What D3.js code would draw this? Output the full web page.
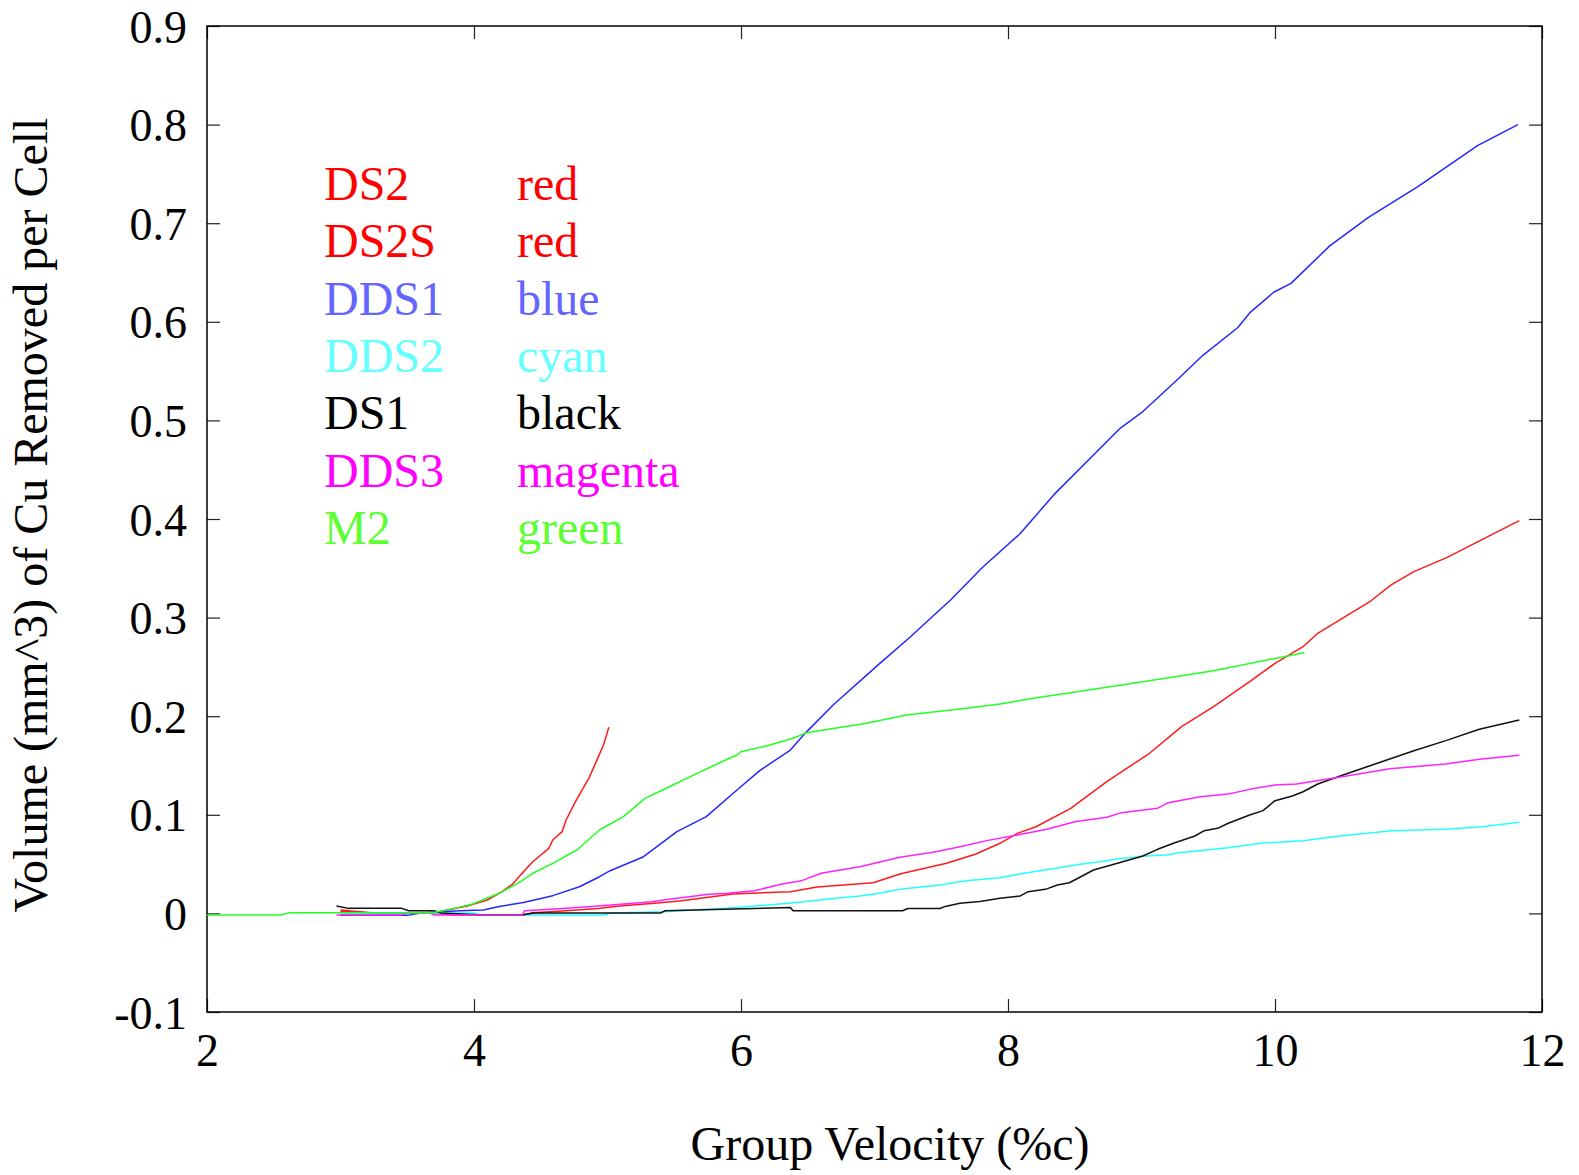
<!DOCTYPE html>
<html>
<head>
<meta charset="utf-8">
<script src="https://cdn.jsdelivr.net/npm/d3@7"></script>
<style>
  html, body { margin: 0; padding: 0; background: #fff; }
  svg { display: block; }
  text { font-family: "Liberation Serif", "Times New Roman", serif; }
</style>
</head>
<body>
<svg id="chart" width="1579" height="1175"></svg>
<script>
// ---------------- data ----------------
const xTicks = [2, 4, 6, 8, 10, 12];
const xTickLabels = ["2", "4", "6", "8", "10", "12"];
const yTicks = [-0.1, 0, 0.1, 0.2, 0.3, 0.4, 0.5, 0.6, 0.7, 0.8, 0.9];
const yTickLabels = ["-0.1", "0", "0.1", "0.2", "0.3", "0.4", "0.5", "0.6", "0.7", "0.8", "0.9"];

const xTitle = "Group Velocity (%c)";
const yTitle = "Volume (mm^3) of Cu Removed per Cell";

const seriesNames = ["DS2", "DS2S", "DDS1", "DDS2", "DS1", "DDS3", "M2"];
const colorWords = ["red", "red", "blue", "cyan", "black", "magenta", "green"];

const DS2 = [[3.0,0.0034],[3.2,0.001],[3.5,0.0005],[3.69,0.0005],[3.80,0.0034],[3.95,0.0075],[4.10,0.0136],[4.21,0.022],[4.29,0.0298],[4.36,0.0407],[4.44,0.0524],[4.56,0.066],[4.59,0.0744],[4.66,0.0829],[4.69,0.0947],[4.76,0.1133],[4.81,0.1252],[4.86,0.137],[4.91,0.1522],[4.97,0.1708],[5.01,0.1887]];

const DS2S = [[3.0,0.002],[3.3,0.0005],[3.67,0.0005],[3.86,-0.0016],[4.36,-0.0016],[4.44,0.0007],[4.69,0.0027],[4.93,0.005],[5.09,0.0075],[5.33,0.0100],[5.54,0.0126],[5.94,0.0197],[6.37,0.022],[6.57,0.0268],[6.99,0.0311],[7.19,0.040],[7.54,0.0508],[7.76,0.0602],[7.94,0.0711],[8.07,0.0812],[8.21,0.0879],[8.47,0.1066],[8.74,0.1336],[9.06,0.1624],[9.30,0.1894],[9.54,0.2096],[9.81,0.235],[10.0,0.2536],[10.21,0.2705],[10.32,0.2841],[10.71,0.3161],[10.87,0.3331],[11.04,0.3466],[11.29,0.3611],[11.55,0.379],[11.83,0.3983]];

const DDS1 = [[3.0,-0.002],[3.5,-0.002],[3.6,0.0005],[3.89,0.0027],[4.07,0.0035],[4.19,0.007],[4.37,0.011],[4.59,0.018],[4.79,0.027],[4.94,0.0372],[5.02,0.0433],[5.27,0.0575],[5.52,0.0829],[5.74,0.0981],[5.97,0.1252],[6.14,0.1448],[6.37,0.1657],[6.48,0.1826],[6.69,0.2114],[7.04,0.2536],[7.27,0.2806],[7.42,0.2993],[7.57,0.3178],[7.81,0.351],[8.09,0.385],[8.35,0.4255],[8.64,0.465],[8.84,0.492],[9.01,0.509],[9.25,0.539],[9.46,0.566],[9.72,0.594],[9.81,0.609],[9.99,0.630],[10.12,0.639],[10.41,0.677],[10.70,0.706],[11.07,0.737],[11.52,0.779],[11.82,0.800]];

const DDS2 = [[3.0,0.0005],[4.0,0.0005],[4.05,-0.0016],[4.97,-0.0016],[5.03,0.0005],[5.42,0.0017],[5.89,0.0052],[6.29,0.0095],[6.47,0.0119],[6.65,0.0146],[6.89,0.0176],[7.06,0.021],[7.19,0.0244],[7.49,0.0288],[7.69,0.0332],[7.94,0.0362],[8.12,0.0407],[8.36,0.0457],[8.54,0.0498],[8.69,0.0524],[8.82,0.0552],[9.03,0.0582],[9.19,0.0592],[9.28,0.0616],[9.65,0.0666],[9.89,0.0711],[10.21,0.0737],[10.48,0.0785],[10.88,0.0839],[11.28,0.0853],[11.55,0.0879],[11.83,0.0924]];

const DS1 = [[2.97,0.0076],[3.06,0.0051],[3.46,0.0051],[3.51,0.0027],[3.70,0.0027],[3.75,0.0005],[4.07,-0.0016],[4.36,-0.0016],[4.45,0.0005],[5.40,0.0005],[5.43,0.0027],[6.37,0.006],[6.39,0.0027],[7.21,0.0027],[7.25,0.005],[7.49,0.005],[7.53,0.0071],[7.64,0.0103],[7.79,0.012],[7.94,0.0153],[8.09,0.0176],[8.15,0.022],[8.28,0.0244],[8.37,0.0288],[8.46,0.0311],[8.64,0.044],[8.82,0.0508],[9.01,0.0582],[9.12,0.065],[9.25,0.0717],[9.40,0.0785],[9.47,0.0839],[9.57,0.0863],[9.65,0.0914],[9.81,0.0998],[9.91,0.1042],[10.0,0.1143],[10.13,0.1191],[10.21,0.1234],[10.32,0.1312],[10.51,0.1404],[10.75,0.1515],[11.04,0.165],[11.28,0.1752],[11.53,0.1867],[11.83,0.1961]];

const DDS3 = [[2.97,-0.0016],[3.46,-0.0016],[3.5,0.0005],[3.67,0.0005],[3.7,-0.0016],[4.36,-0.0016],[4.38,0.0028],[4.69,0.0052],[4.93,0.0075],[5.17,0.0100],[5.33,0.0119],[5.46,0.0143],[5.76,0.0194],[5.90,0.0204],[6.10,0.023],[6.30,0.0295],[6.45,0.033],[6.60,0.0407],[6.89,0.0474],[7.19,0.0569],[7.44,0.062],[7.64,0.0677],[7.84,0.0738],[8.07,0.0795],[8.29,0.0853],[8.50,0.093],[8.74,0.0975],[8.85,0.1022],[9.12,0.1066],[9.20,0.1123],[9.44,0.1184],[9.65,0.1211],[9.81,0.1258],[10.0,0.1302],[10.16,0.1312],[10.48,0.138],[10.86,0.1468],[11.28,0.1515],[11.53,0.1563],[11.83,0.1603]];

const M2 = [[2.0,-0.0016],[2.55,-0.0016],[2.62,0.0007],[3.69,0.0007],[3.82,0.0041],[3.99,0.0095],[4.19,0.0204],[4.34,0.0315],[4.44,0.0407],[4.59,0.0508],[4.77,0.0643],[4.94,0.0846],[5.12,0.0981],[5.28,0.1167],[5.44,0.1269],[5.62,0.1387],[5.82,0.1515],[5.97,0.1606],[6.0,0.164],[6.19,0.1698],[6.39,0.1776],[6.49,0.1833],[6.94,0.1928],[7.24,0.2012],[7.69,0.208],[7.94,0.2124],[8.19,0.2181],[8.69,0.2283],[9.01,0.235],[9.54,0.2462],[10.22,0.2644]];

const seriesData = [DS2, DS2S, DDS1, DDS2, DS1, DDS3, M2];

// ---------------- styles ----------------
const lineColors = ["#ff1a1a", "#ff1a1a", "#2626ff", "#22ffff", "#111111", "#ff22ff", "#22ff22"];
const textColors = ["#ff0000", "#ff0000", "#6464ff", "#66ffff", "#000000", "#ff00ff", "#5cff33"];

const svg = d3.select("#chart");
const W = 1579, H = 1175;
svg.append("rect").attr("width", W).attr("height", H).attr("fill", "#fff");

const pLeft = 207, pRight = 1542, pTop = 26, pBottom = 1012;
const x = d3.scaleLinear().domain([2, 12]).range([pLeft, pRight]);
const y = d3.scaleLinear().domain([-0.1, 0.9]).range([pBottom, pTop]);

const tickFont = 46;

// axes (inward ticks on all sides)
const axL = svg.append("g").attr("transform", `translate(${pLeft},0)`)
  .call(d3.axisLeft(y).tickValues(yTicks).tickSize(-13).tickPadding(20)
    .tickFormat((d, i) => yTickLabels[i]));
const axB = svg.append("g").attr("transform", `translate(0,${pBottom})`)
  .call(d3.axisBottom(x).tickValues(xTicks).tickSize(-13).tickPadding(21)
    .tickFormat((d, i) => xTickLabels[i]));
const axT = svg.append("g").attr("transform", `translate(0,${pTop})`)
  .call(d3.axisTop(x).tickValues(xTicks).tickSize(-13).tickFormat(""));
const axR = svg.append("g").attr("transform", `translate(${pRight},0)`)
  .call(d3.axisRight(y).tickValues(yTicks).tickSize(-13).tickFormat(""));

[axL, axB, axT, axR].forEach(a => {
  a.select(".domain").remove();
  a.selectAll(".tick line").attr("stroke", "#222").attr("stroke-width", 1.2);
  a.selectAll(".tick text")
    .attr("font-family", '"Liberation Serif", "Times New Roman", serif')
    .attr("font-size", tickFont)
    .attr("fill", "#000");
});
axL.selectAll(".tick text").attr("dy", "0.35em");
axB.selectAll(".tick text").attr("dy", "0.71em");

// frame
svg.append("rect")
  .attr("x", pLeft).attr("y", pTop)
  .attr("width", pRight - pLeft).attr("height", pBottom - pTop)
  .attr("fill", "none").attr("stroke", "#000").attr("stroke-width", 1.5);

// series lines
const line = d3.line().x(d => x(d[0])).y(d => y(d[1]));
const gLines = svg.append("g");
seriesData.forEach((s, i) => {
  gLines.append("path")
    .datum(s)
    .attr("d", line)
    .attr("fill", "none")
    .attr("stroke", lineColors[i])
    .attr("stroke-width", 1.5)
    .attr("stroke-linejoin", "round");
});

// legend text
const legX1 = 324, legX2 = 517, legY0 = 200, legDy = 57.3;
const gLeg = svg.append("g")
  .attr("font-family", '"Liberation Serif", "Times New Roman", serif')
  .attr("font-size", 48);
seriesNames.forEach((n, i) => {
  gLeg.append("text").attr("x", legX1).attr("y", legY0 + i * legDy)
    .attr("fill", textColors[i]).text(n);
  gLeg.append("text").attr("x", legX2).attr("y", legY0 + i * legDy)
    .attr("fill", textColors[i]).text(colorWords[i]);
});

// axis titles
svg.append("text")
  .attr("x", 890).attr("y", 1160)
  .attr("text-anchor", "middle")
  .attr("font-size", 48).attr("fill", "#000")
  .text(xTitle);

svg.append("text")
  .attr("transform", "translate(47,515) rotate(-90)")
  .attr("text-anchor", "middle")
  .attr("font-size", 48).attr("fill", "#000")
  .text(yTitle);
</script>
</body>
</html>
